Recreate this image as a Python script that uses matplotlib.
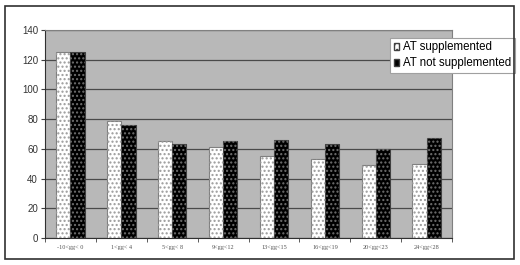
"""Staafdiagram: AT supplemented vs not supplemented per leeftijdsklasse."""

import matplotlib
matplotlib.use("Agg")
import matplotlib.pyplot as plt
import matplotlib.patches as mpatches
import numpy as np

# ── Data ──────────────────────────────────────────────────────────────────────
klassen = ["-10<gg< 0", "1<gg< 4", "5<gg< 8", "9<gg<12",
           "13<gg<15", "16<gg<19", "20<gg<23", "24<gg<28"]
supplemented = [125, 79, 65, 61, 55, 53, 49, 50]
not_supplemented = [125, 76, 63, 65, 66, 63, 60, 67]
yticks = [0, 20, 40, 60, 80, 100, 120, 140]

plt.rcParams["font.family"] = ["Liberation Sans", "DejaVu Sans"]

# ── Plot ──────────────────────────────────────────────────────────────────────
fig = plt.figure(figsize=(5.2, 2.65), dpi=100)
ax = fig.add_axes([0.0865, 0.102, 0.783, 0.785])
ax.set_facecolor("#b8b8b8")

x = np.arange(len(klassen))
w = 0.28

# gevulde staven
ax.bar(x - w / 2, supplemented, w, color="white", edgecolor="#808080",
       linewidth=0.8, zorder=3)
ax.bar(x + w / 2, not_supplemented, w, color="black", edgecolor="#404040",
       linewidth=0.8, zorder=3)
# stippenpatroon erover
ax.bar(x - w / 2, supplemented, w, color="none", edgecolor="#9a9a9a",
       hatch="....", linewidth=0, zorder=4)
ax.bar(x + w / 2, not_supplemented, w, color="none", edgecolor="#707070",
       hatch="....", linewidth=0, zorder=4)

ax.set_xlim(-0.5, len(klassen) - 0.5)
ax.set_ylim(0, 140)
ax.set_yticks(yticks)
ax.yaxis.grid(True, color="#4a4a4a", linewidth=0.9, zorder=1)
ax.set_axisbelow(True)
ax.tick_params(axis="y", labelsize=7, length=3, color="#404040", pad=2,
               labelcolor="#333333")

ax.set_xticks(x)
ax.set_xticklabels(klassen, fontsize=4.5, color="#555555",
                   family=["Liberation Serif", "DejaVu Serif"])
ax.tick_params(axis="x", length=0, pad=5)
ax.set_xticks(np.arange(len(klassen) + 1) - 0.5, minor=True)
ax.tick_params(axis="x", which="minor", length=3, color="#404040")

for side in ["top", "right"]:
    ax.spines[side].set_color("#808080")
for side in ["left", "bottom"]:
    ax.spines[side].set_color("#303030")

# Legenda
handles = [
    mpatches.Patch(facecolor="white", edgecolor="#404040", hatch="...",
                   label="AT supplemented"),
    mpatches.Patch(facecolor="black", edgecolor="#404040",
                   label="AT not supplemented"),
]
leg = ax.legend(handles=handles, loc="upper left",
                bbox_to_anchor=(0.848, 0.962), fontsize=8.3,
                frameon=True, fancybox=False, framealpha=1,
                edgecolor="#a0a0a0", handlelength=0.5, handleheight=0.5,
                handletextpad=0.3, borderpad=0.3, labelspacing=0.35,
                borderaxespad=0)
leg.get_frame().set_linewidth(0.8)

# Buitenkader
fig.patches.append(mpatches.Rectangle(
    (5 / 520, 6 / 265), 509 / 520, 253 / 265, transform=fig.transFigure,
    fill=False, edgecolor="#303030", linewidth=1.2))

plt.savefig("out.png", dpi=100)
plt.close()
